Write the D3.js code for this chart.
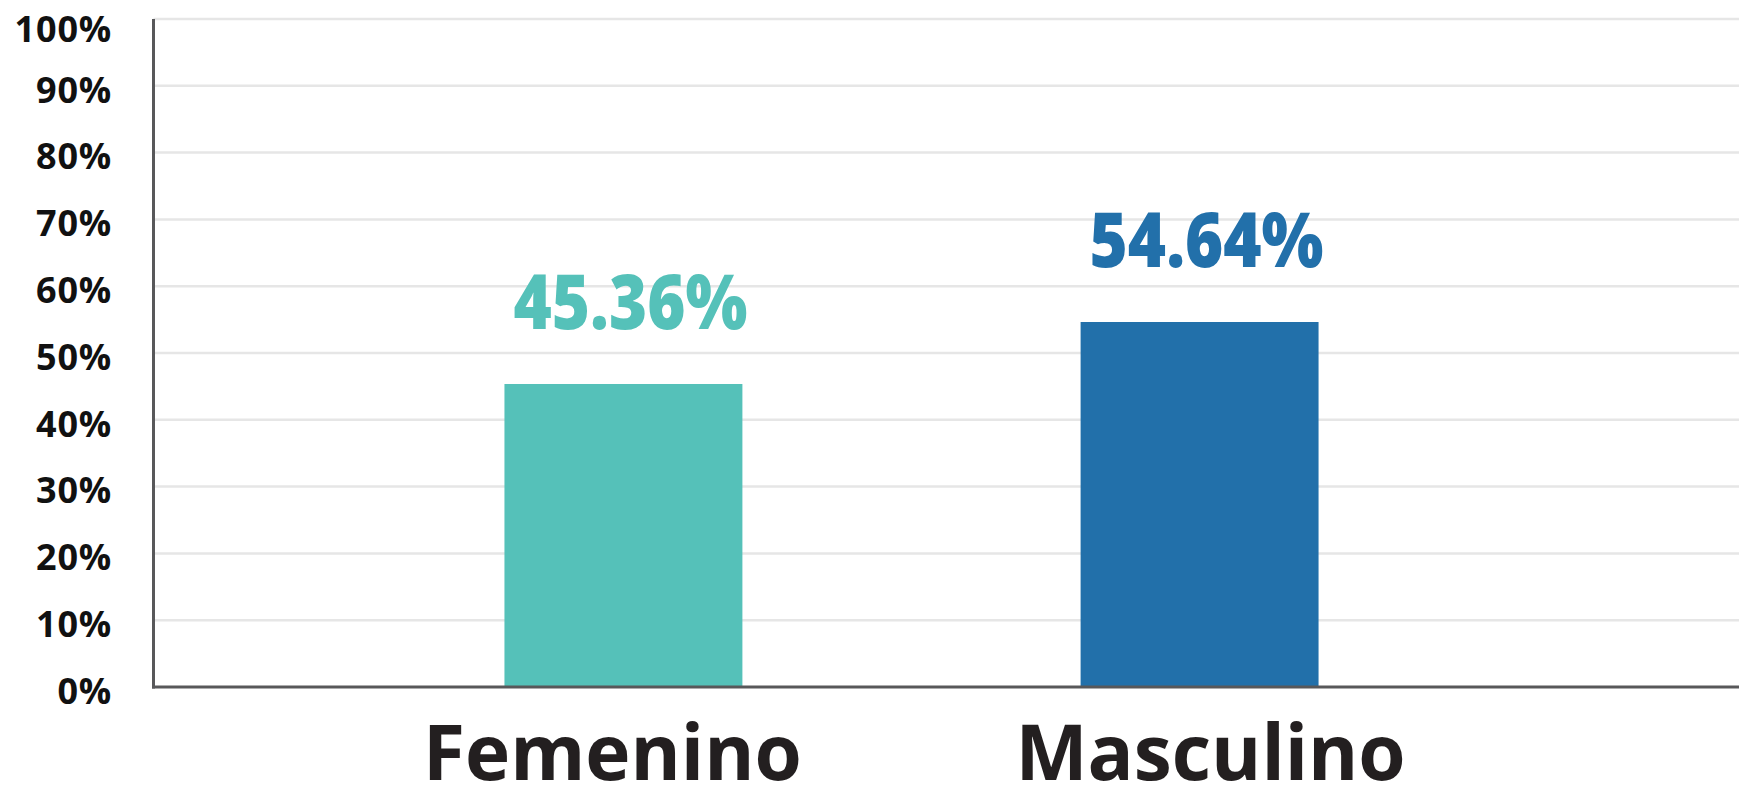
<!DOCTYPE html>
<html>
<head>
<meta charset="utf-8">
<script src="https://cdn.jsdelivr.net/npm/d3@7"></script>
<style>
  html, body { margin: 0; padding: 0; background: #ffffff; }
  svg { display: block; }
</style>
</head>
<body>
<svg id="chart" width="1739" height="787"></svg>
<script>
const categories = ["Femenino", "Masculino"];
const values = [45.36, 54.64];
const valueLabels = ["45.36%", "54.64%"];
const barColors = ["#55c1b9", "#2270aa"];
const tickValues = [0, 10, 20, 30, 40, 50, 60, 70, 80, 90, 100];

const W = 1739, H = 787;
const plotLeft = 153.5, plotTop = 19, plotBottom = 687;

const svg = d3.select("#chart");

const y = d3.scaleLinear().domain([0, 100]).range([plotBottom, plotTop]);
const x = d3.scaleBand().domain(categories).range([153, 1670])
  .paddingInner(0.587).paddingOuter(0.61);

// gridlines
svg.append("g").selectAll("line").data(tickValues.filter(d => d > 0)).join("line")
  .attr("x1", plotLeft).attr("x2", W)
  .attr("y1", d => y(d)).attr("y2", d => y(d))
  .attr("stroke", "#e6e6e6").attr("stroke-width", 2.5);

// y tick labels via axis
const yAxis = d3.axisLeft(y).tickValues(tickValues).tickFormat(d => d + "%").tickSize(0).tickPadding(0);
const ga = svg.append("g").attr("transform", `translate(112,0)`).call(yAxis);
ga.select(".domain").remove();
ga.selectAll("text")
  .attr("font-family", "'Open Sans', sans-serif")
  .attr("font-weight", 700)
  .attr("font-size", 36)
  .attr("fill", "#111111")
  .attr("letter-spacing", 0.8)
  .attr("dy", d => d === 100 ? "0.62em" : "0.45em");

// bars
svg.append("g").selectAll("rect").data(values).join("rect")
  .attr("x", (d, i) => x(categories[i]))
  .attr("width", x.bandwidth())
  .attr("y", d => y(d))
  .attr("height", d => plotBottom - y(d))
  .attr("fill", (d, i) => barColors[i]);

// value labels
svg.append("g").selectAll("text").data(values).join("text")
  .attr("x", (d, i) => x(categories[i]) + x.bandwidth() / 2 + 7)
  .attr("y", d => y(d) - 55)
  .attr("text-anchor", "middle")
  .attr("font-family", "'Open Sans', sans-serif")
  .attr("font-weight", 800)
  .attr("font-size", 77)
  .attr("textLength", 234)
  .attr("lengthAdjust", "spacingAndGlyphs")
  .attr("fill", (d, i) => barColors[i])
  .text((d, i) => valueLabels[i]);

// axes lines
svg.append("line").attr("x1", plotLeft).attr("x2", plotLeft).attr("y1", plotTop).attr("y2", plotBottom + 1.5)
  .attr("stroke", "#58585a").attr("stroke-width", 3);
svg.append("line").attr("x1", plotLeft - 1.5).attr("x2", W).attr("y1", plotBottom).attr("y2", plotBottom)
  .attr("stroke", "#58585a").attr("stroke-width", 3);

// category labels
svg.append("g").selectAll("text").data(categories).join("text")
  .attr("x", (d, i) => x(d) + x.bandwidth() / 2 + (i === 0 ? -11 : 11))
  .attr("y", 780)
  .attr("text-anchor", "middle")
  .attr("font-family", "'Open Sans', sans-serif")
  .attr("font-weight", 700)
  .attr("font-size", 76.5)
  .attr("fill", "#231f20")
  .text(d => d);
</script>
</body>
</html>
